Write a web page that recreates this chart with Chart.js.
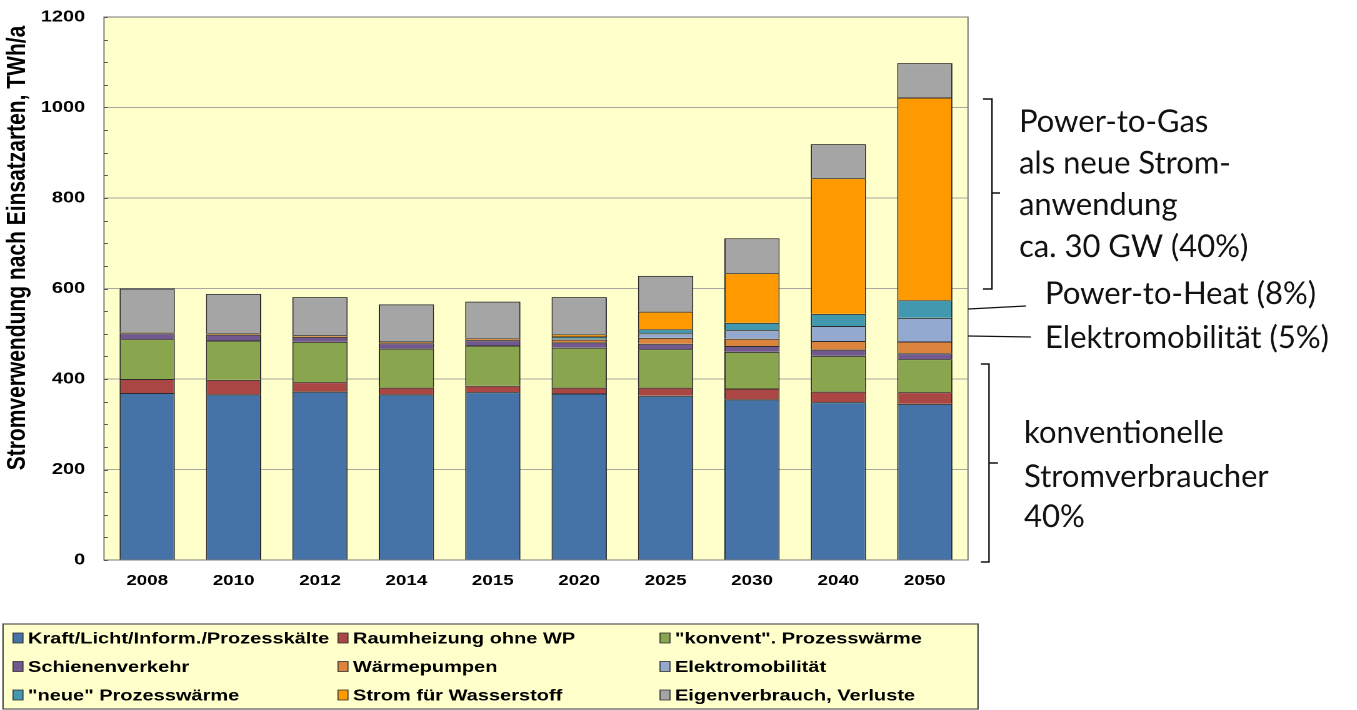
<!DOCTYPE html>
<html>
<head>
<meta charset="utf-8">
<script src="https://cdn.jsdelivr.net/npm/chart.js@4/dist/chart.umd.min.js"></script>
<style>
  html, body { margin: 0; padding: 0; background: #ffffff; overflow: hidden; }
  #wrap { position: relative; width: 1357px; height: 710px; overflow: hidden; }
  #c { position: absolute; left: 0; top: 0; transform-origin: 0 0; transform: scaleX(1.25); }
</style>
</head>
<body>
<div id="wrap"><canvas id="c" width="1086" height="710"></canvas></div>
<script>
// ---- data (TWh/a) ----
const years = ['2008','2010','2012','2014','2015','2020','2025','2030','2040','2050'];
const seriesNames = [
  'Kraft/Licht/Inform./Prozesskälte', 'Raumheizung ohne WP', '"konvent". Prozesswärme',
  'Schienenverkehr', 'Wärmepumpen', 'Elektromobilität',
  '"neue" Prozesswärme', 'Strom für Wasserstoff', 'Eigenverbrauch, Verluste'
];
const kraft        = [369, 366, 372, 366, 371, 368, 363, 355, 349, 345];
const raumheizung  = [ 31,  32,  21,  15,  14,  13,  18,  24,  23,  26];
const konventPW    = [ 88,  87,  89,  86,  89,  88,  85,  81,  79,  73];
const schiene      = [ 13,  13,  11,  12,  12,  12,  12,  13,  14,  13];
const waermepumpen = [  2,   3,   4,   4,   4,   6,  13,  16,  19,  26];
const elektromob   = [  0,   0,   0,   0,   0,   2,  10,  19,  33,  52];
const neuePW       = [  0,   0,   0,   0,   0,   5,   9,  16,  27,  39];
const wasserstoff  = [  0,   0,   0,   0,   0,   5,  39, 110, 300, 448];
const eigenverbr   = [ 97,  87,  84,  82,  81,  82,  79,  77,  75,  76];
const yTicks = [0, 200, 400, 600, 800, 1000, 1200];
const yTitle = 'Stromverwendung nach Einsatzarten, TWh/a';

const seriesValues = [kraft, raumheizung, konventPW, schiene, waermepumpen, elektromob, neuePW, wasserstoff, eigenverbr];
const seriesColors = ['#4572A7', '#AA4643', '#89A54E', '#71588F', '#DB843D', '#93A9CF', '#4198AF', '#FF9900', '#A5A5A5'];

const SX = 1.25;           // horizontal stretch of the embedded chart picture
const W = 1086, H = 710;
const plotLeft = 104 / SX, plotRight = 968 / SX, plotTop = 17, plotBottom = 560;
const xAxisH = 40;

const decor = {
  id: 'decor',
  beforeDraw(chart) {
    const {ctx, chartArea: a} = chart;
    ctx.save();
    ctx.fillStyle = '#FFFFCC';
    ctx.fillRect(a.left, a.top, a.right - a.left, a.bottom - a.top);
    ctx.restore();
  },
  afterDraw(chart) {
    const {ctx, chartArea: a} = chart;
    const ys = chart.scales.y;
    ctx.save();
    // plot border
    ctx.strokeStyle = '#7a7a7a';
    ctx.lineWidth = 1;
    ctx.strokeRect(a.left, a.top, a.right - a.left, a.bottom - a.top);
    // minor tick marks every 50 on the left edge (inside)
    ctx.beginPath();
    for (let v = ys.min; v <= ys.max; v += 50) {
      const y = Math.round(ys.getPixelForValue(v)) + 0.5;
      ctx.moveTo(a.left, y);
      ctx.lineTo(a.left + 4 / SX, y);
    }
    ctx.strokeStyle = '#555';
    ctx.stroke();

    // y axis title
    ctx.save();
    ctx.translate(18 / SX, 248);
    ctx.rotate(-Math.PI / 2);
    ctx.font = 'bold 21px "Liberation Sans", Arial, sans-serif';
    ctx.fillStyle = '#000';
    ctx.textAlign = 'center';
    ctx.textBaseline = 'middle';
    ctx.fillText(yTitle, 0, 0);
    ctx.restore();

    // legend box
    const bx = 3 / SX, by = 624, bw = (978 - 3) / SX, bh = 85;
    ctx.fillStyle = '#FFFFCC';
    ctx.fillRect(bx, by, bw, bh);
    ctx.strokeStyle = '#555';
    ctx.lineWidth = 1.2;
    ctx.strokeRect(bx, by, bw, bh);
    const colSq = [13 / SX, 338 / SX, 660 / SX];
    const colTx = [28 / SX, 353 / SX, 675 / SX];
    const rowY = [638, 666.5, 695];
    ctx.font = 'bold 16px "Liberation Sans", Arial, sans-serif';
    ctx.textBaseline = 'middle';
    ctx.textAlign = 'left';
    chart.data.datasets.forEach((ds, i) => {
      const r = Math.floor(i / 3), c = i % 3;
      const y = rowY[r];
      ctx.fillStyle = ds.backgroundColor;
      ctx.fillRect(colSq[c], y - 5, 10 / SX, 10);
      ctx.strokeStyle = '#333';
      ctx.lineWidth = 0.8;
      ctx.strokeRect(colSq[c], y - 5, 10 / SX, 10);
      ctx.fillStyle = '#000';
      ctx.fillText(ds.label, colTx[c], y + 1);
    });
    ctx.restore();

    // annotations (drawn in unstretched screen coordinates)
    ctx.save();
    ctx.scale(1 / SX, 1);
    ctx.strokeStyle = '#111';
    ctx.lineWidth = 1.5;
    ctx.beginPath();
    ctx.moveTo(983, 99); ctx.lineTo(992, 99); ctx.lineTo(992, 289); ctx.lineTo(983, 289);
    ctx.moveTo(992, 193); ctx.lineTo(1000, 193);
    ctx.moveTo(981, 364); ctx.lineTo(989, 364); ctx.lineTo(989, 562); ctx.lineTo(981, 562);
    ctx.moveTo(989, 463); ctx.lineTo(998, 463);
    ctx.stroke();
    ctx.lineWidth = 1.2;
    ctx.beginPath();
    ctx.moveTo(968, 309); ctx.lineTo(1026, 306);
    ctx.moveTo(968, 336); ctx.lineTo(1031, 337);
    ctx.stroke();
    ctx.fillStyle = '#111';
    ctx.font = '31px Lato, "Open Sans", sans-serif';
    ctx.textBaseline = 'alphabetic';
    ctx.textAlign = 'left';
    const notes = [
      ['Power-to-Gas', 1019, 132],
      ['als neue Strom-', 1019, 173.5],
      ['anwendung', 1019, 215],
      ['ca. 30 GW (40%)', 1019, 257],
      ['Power-to-Heat (8%)', 1045, 304],
      ['Elektromobilität (5%)', 1045, 348],
      ['konventionelle', 1024, 443],
      ['Stromverbraucher', 1024, 487],
      ['40%', 1024, 527]
    ];
    notes.forEach(([t, x, y]) => ctx.fillText(t, x, y));
    ctx.restore();
  }
};

new Chart(document.getElementById('c'), {
  type: 'bar',
  data: {
    labels: years,
    datasets: seriesNames.map((name, i) => ({
      label: name,
      data: seriesValues[i],
      backgroundColor: seriesColors[i],
      borderColor: '#2b2b2b',
      borderWidth: 1,
      stack: 's',
      categoryPercentage: 1.0,
      barPercentage: 0.64
    }))
  },
  options: {
    responsive: false,
    devicePixelRatio: 2,
    animation: false,
    layout: { padding: { left: 0, top: plotTop, right: W - plotRight, bottom: H - plotBottom - xAxisH } },
    plugins: { legend: { display: false }, tooltip: { enabled: false } },
    scales: {
      x: {
        stacked: true,
        grid: { display: false, drawTicks: false },
        border: { display: false },
        ticks: { color: '#000', font: { family: '"Liberation Sans", Arial, sans-serif', weight: 'bold', size: 15 }, padding: 12, maxRotation: 0 },
        afterFit(s) { s.height = xAxisH; }
      },
      y: {
        stacked: true,
        min: 0, max: 1200,
        afterBuildTicks(s) { s.ticks = yTicks.map(v => ({ value: v })); },
        grid: { color: '#A8A8A0', lineWidth: 1, drawTicks: true, tickLength: 15, tickColor: 'rgba(0,0,0,0)' },
        border: { display: false },
        ticks: {
          color: '#000',
          font: { family: '"Liberation Sans", Arial, sans-serif', weight: 'bold', size: 16 },
          padding: 0,
          callback: v => String(v)
        },
        afterFit(s) { s.width = plotLeft; }
      }
    }
  },
  plugins: [decor]
});
</script>
</body>
</html>
